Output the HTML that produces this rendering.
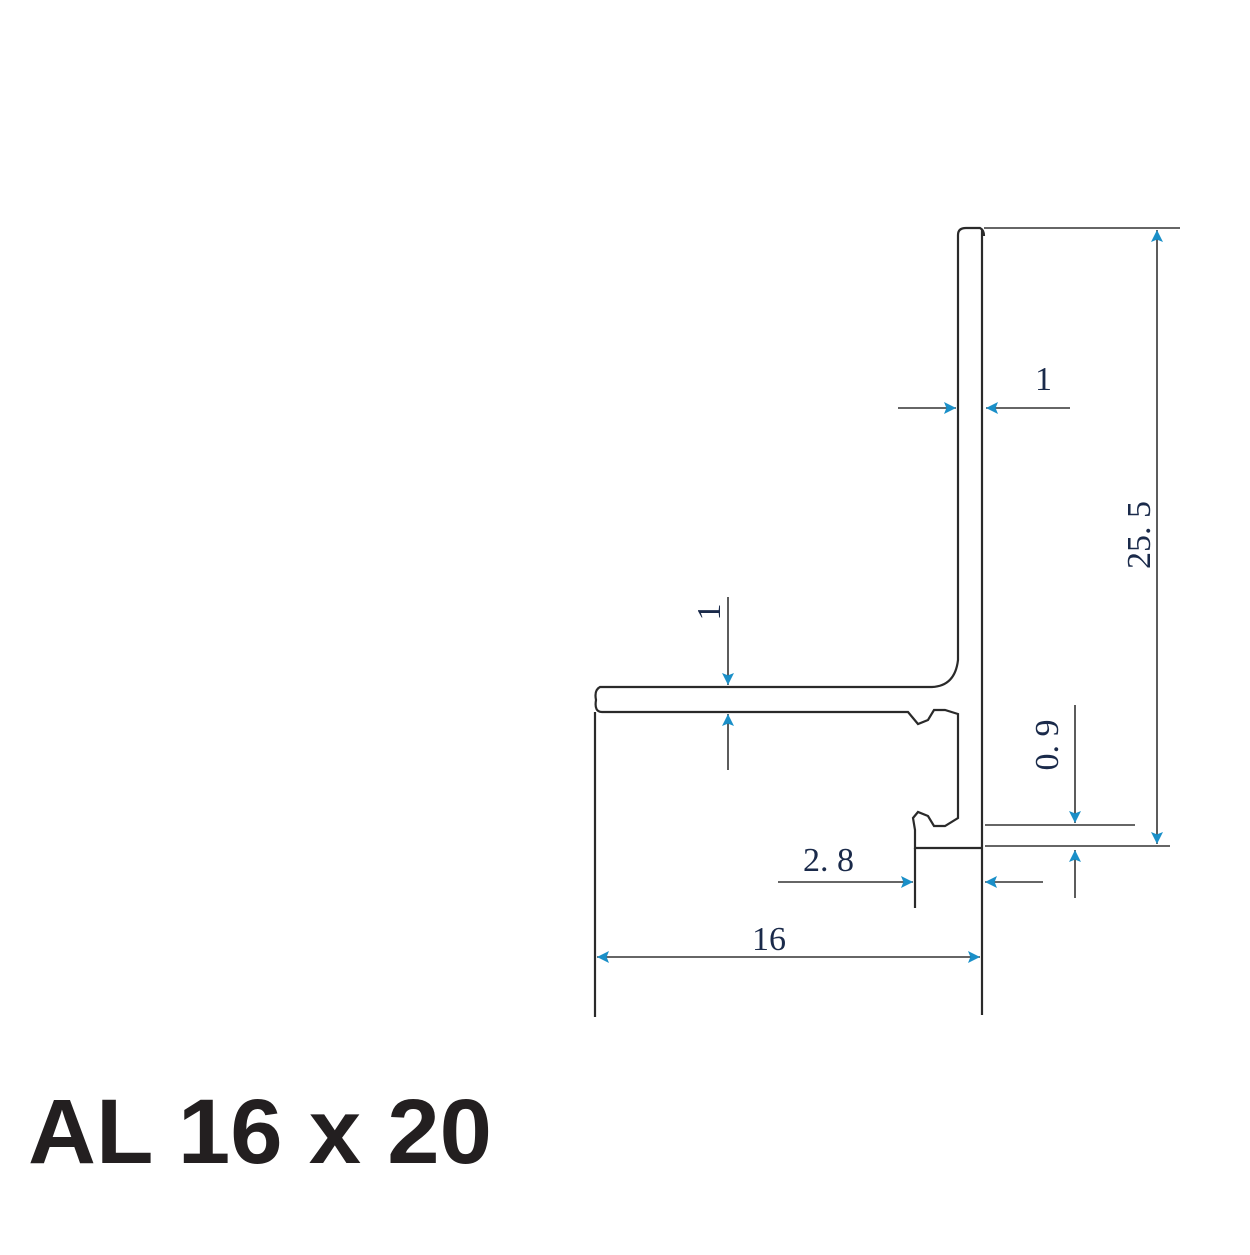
<!DOCTYPE html>
<html><head><style>html,body{margin:0;padding:0;background:#fff}</style></head>
<body>
<svg width="1250" height="1250" viewBox="0 0 1250 1250" xmlns="http://www.w3.org/2000/svg">
<defs>
<marker id="a" viewBox="0 0 10 10" refX="10" refY="5" markerWidth="30" markerHeight="12" markerUnits="userSpaceOnUse" orient="auto">
<path d="M0,0 L10,5 L0,10 L2,5 z" fill="#1a8fc8"/>
</marker>
</defs>
<g fill="none" stroke="#2a2a2a" stroke-width="2.2">
<path d="M958,235 Q958,228 966,228 L980,228 Q984,230 984,236"/>
<path d="M958,235 L958,660 Q955,686 932,687 L600,687 Q594,690 596,700 Q594,712 602,712 L908,712 L918,724 L928,720 L934,710 L945,710 L958,714 L958,818 L945,826 L934,826 L928,816 L918,812 L913,818 L915,830 L915,848 L982,848"/>
<path d="M982,230 L982,1015"/>
<path d="M595,712 L595,1017"/>
<path d="M915,848 L915,908"/>
</g>
<g fill="none" stroke="#333" stroke-width="1.6">
<path d="M984,228 L1180,228"/>
<path d="M985,846 L1170,846"/>
<path d="M985,825 L1135,825"/>
<path d="M1157,540 L1157,230" marker-end="url(#a)"/>
<path d="M1157,540 L1157,844" marker-end="url(#a)"/>
<path d="M1075,705 L1075,823" marker-end="url(#a)"/>
<path d="M1075,898 L1075,850" marker-end="url(#a)"/>
<path d="M898,408 L956,408" marker-end="url(#a)"/>
<path d="M1070,408 L986,408" marker-end="url(#a)"/>
<path d="M728,597 L728,685" marker-end="url(#a)"/>
<path d="M728,770 L728,714" marker-end="url(#a)"/>
<path d="M778,882 L913,882" marker-end="url(#a)"/>
<path d="M1043,882 L985,882" marker-end="url(#a)"/>
<path d="M780,957 L597,957" marker-end="url(#a)"/>
<path d="M780,957 L980,957" marker-end="url(#a)"/>
</g>
<g font-family="Liberation Serif, serif" font-size="34" fill="#1a2a4a">
<text x="1035" y="390">1</text>
<text x="803" y="871">2. 8</text>
<text x="752" y="950">16</text>
<text transform="translate(1150,535) rotate(-90)" text-anchor="middle">25. 5</text>
<text transform="translate(1058,745) rotate(-90)" text-anchor="middle">0. 9</text>
<text transform="translate(720,612) rotate(-90)" text-anchor="middle">1</text>
</g>
<text x="28" y="1163" font-family="Liberation Sans, Arial, sans-serif" font-weight="bold" font-size="92" fill="#231f20" textLength="464" lengthAdjust="spacingAndGlyphs">AL 16 x 20</text>
</svg>
</body></html>
